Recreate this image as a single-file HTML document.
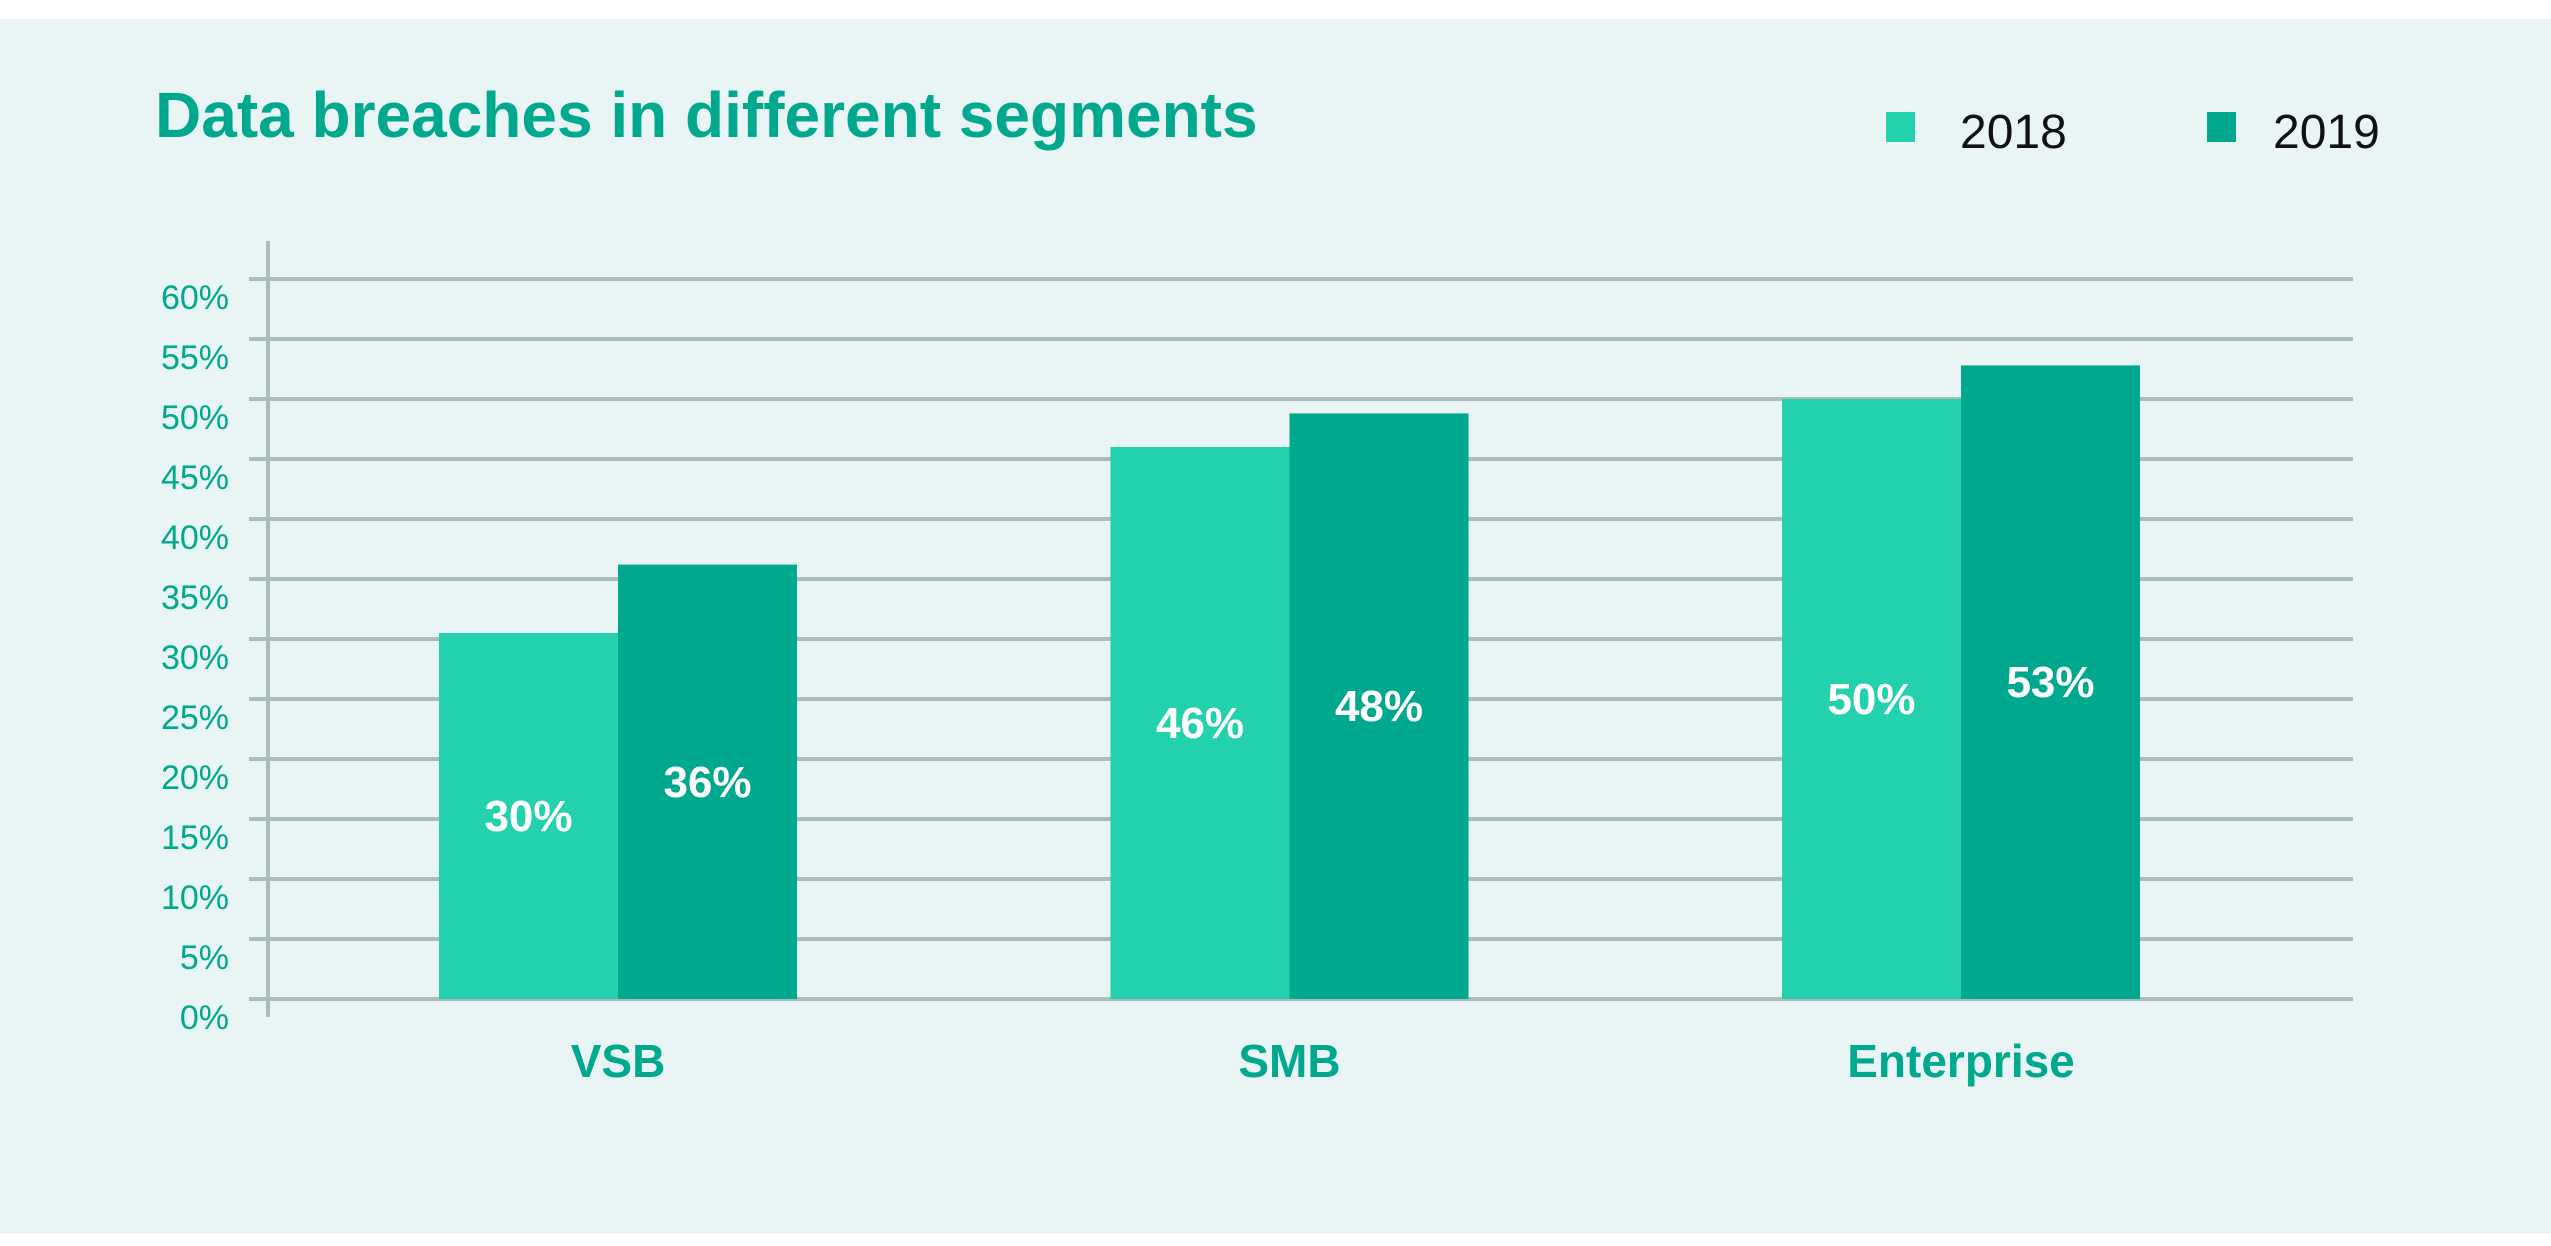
<!DOCTYPE html>
<html><head><meta charset="utf-8"><style>
html,body{margin:0;padding:0;background:#fff;}
body{width:2551px;height:1246px;position:relative;overflow:hidden;font-family:"Liberation Sans",sans-serif;}
#panel{position:absolute;left:0;top:19px;width:2551px;height:1215px;background:#e9f4f4;}
svg{position:absolute;left:0;top:0;}
</style></head><body>
<div id="panel"></div>
<svg id="chart" width="2551" height="1246">
<text x="155" y="137" font-size="64" font-weight="bold" fill="#00a88e" font-family="Liberation Sans, sans-serif">Data breaches in different segments</text>
<g>
<rect x="1886" y="112" width="29" height="30" fill="#24d1ad"/>
<text x="1960" y="148" font-size="48" fill="#111">2018</text>
<rect x="2207" y="112" width="29" height="30" fill="#00a88e"/>
<text x="2273" y="148" font-size="48" fill="#111">2019</text>
</g>
</svg>
<script>
const categories=["VSB","SMB","Enterprise"];
const values2018=[30.5,46,50];
const values2019=[36.2,48.8,52.8];
const labels2018=["30%","46%","50%"];
const labels2019=["36%","48%","53%"];
const yTicks=[0,5,10,15,20,25,30,35,40,45,50,55,60];
const NS="http://www.w3.org/2000/svg";
const svg=document.getElementById('chart');
const y0=999,pxPer=12;
function yScale(v){return y0-v*pxPer;}
const groupCenters0=618,groupStep=671.5,barW=179;
function xCenter(i){return groupCenters0+i*groupStep;}
function mk(t,a){const e=document.createElementNS(NS,t);for(const k in a)e.setAttribute(k,a[k]);svg.appendChild(e);return e;}
yTicks.forEach(function(t){
  const y=yScale(t);
  const l=mk('rect',{x:249,y:y-2,width:2104,height:4,fill:'#a9bebc'});
  
  
  const tx=mk('text',{x:229,y:y+30,'font-size':34,fill:'#00a88e','text-anchor':'end'});
  tx.textContent=t+'%';
  
  
});
const ax=mk('rect',{x:266,y:241,width:4,height:776,fill:'#a9bebc'});


categories.forEach(function(c,i){
  const cx=xCenter(i);
  [[values2018,labels2018,'#24d1ad',-1,'2018'],[values2019,labels2019,'#00a88e',0,'2019']].forEach(function(s){
    const v=s[0][i];const x=cx+s[3]*barW;const top=yScale(v);
    const r=mk('rect',{x:x,y:top,width:barW,height:y0-top,fill:s[2]});
    
    
    const t=mk('text',{x:x+barW/2,y:(top+y0)/2+15,'font-size':44,'font-weight':'bold',fill:'#fff','text-anchor':'middle'});
    t.textContent=s[1][i];
    
    
  });
  const cl=mk('text',{x:cx,y:1077,'font-size':46,'font-weight':'bold',fill:'#00a88e','text-anchor':'middle'});
  cl.textContent=c;
  
  
});
</script>
</body></html>
